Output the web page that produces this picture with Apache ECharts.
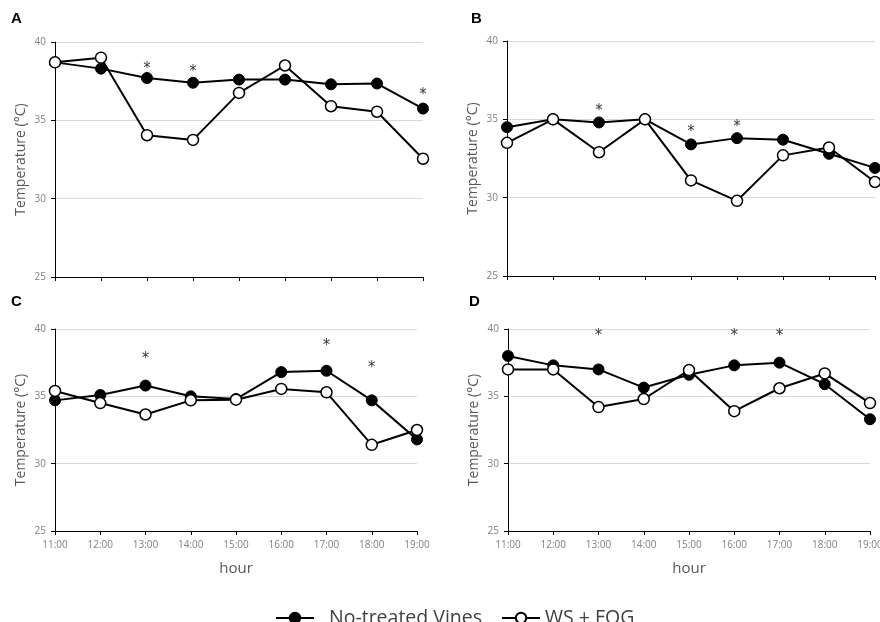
<!DOCTYPE html>
<html>
<head>
<meta charset="utf-8">
<script src="https://cdn.jsdelivr.net/npm/echarts@6/dist/echarts.min.js"></script>
<style>
  html, body { margin: 0; padding: 0; background: #fff; }
  #main { width: 880px; height: 622px; }
</style>
</head>
<body>
<div id="main"></div>
<script>
var hours = ["11:00", "12:00", "13:00", "14:00", "15:00", "16:00", "17:00", "18:00", "19:00"];

// No-treated Vines (filled) and WS + FOG (open), one pair per panel
var controlA = [38.7, 38.3, 37.7, 37.4, 37.6, 37.6, 37.3, 37.35, 35.75];
var fogA = [38.7, 39.0, 34.05, 33.75, 36.75, 38.5, 35.9, 35.55, 32.55];
var controlB = [34.5, 35.0, 34.8, 35.0, 33.4, 33.8, 33.7, 32.8, 31.9];
var fogB = [33.5, 35.0, 32.9, 35.0, 31.1, 29.8, 32.7, 33.2, 31.0];
var controlC = [34.7, 35.1, 35.8, 35.0, 34.8, 36.8, 36.9, 34.7, 31.8];
var fogC = [35.4, 34.5, 33.65, 34.7, 34.75, 35.55, 35.3, 31.4, 32.5];
var controlD = [38.0, 37.3, 37.0, 35.65, 36.6, 37.3, 37.5, 35.9, 33.3];
var fogD = [37.0, 37.0, 34.2, 34.8, 36.95, 33.9, 35.6, 36.7, 34.5];

// significance asterisks (value where the * sits, null = none)
var starsA = [null, null, 38.3, 38.1, null, null, null, null, 36.6];
var starsB = [null, null, 35.5, null, 34.2, 34.5, null, null, null];
var starsC = [null, null, 37.8, null, null, null, 38.75, 37.1, null];
var starsD = [null, null, 39.45, null, null, 39.5, 39.5, null, null];

var panels = [
  { letter: "A", control: controlA, fog: fogA, stars: starsA },
  { letter: "B", control: controlB, fog: fogB, stars: starsB },
  { letter: "C", control: controlC, fog: fogC, stars: starsC },
  { letter: "D", control: controlD, fog: fogD, stars: starsD }
];

var grids = [
  { left: 55, top: 42, width: 368, height: 235, outerBoundsMode: "none" },
  { left: 507, top: 41, width: 368, height: 235, outerBoundsMode: "none" },
  { left: 55, top: 329, width: 362, height: 202, outerBoundsMode: "none" },
  { left: 508, top: 329, width: 362, height: 202, outerBoundsMode: "none" }
];
var letterPos = [[11, 11], [471, 11], [11, 294], [469, 294]];

var font = "'Open Sans', sans-serif";
var xAxes = [], yAxes = [], series = [], graphics = [];

panels.forEach(function (p, i) {
  var bottomRow = i >= 2;
  xAxes.push({
    gridIndex: i,
    type: "category",
    data: hours,
    boundaryGap: false,
    axisLine: { lineStyle: { color: "#000", width: 1 } },
    axisTick: { show: true, length: 4, lineStyle: { color: "#000" } },
    axisLabel: { show: bottomRow, fontSize: 10, color: "#7f7f7f", margin: 9, fontFamily: font },
    name: bottomRow ? "hour" : "",
    nameLocation: "middle",
    nameGap: 30,
    nameTextStyle: { fontSize: 15, color: "#595959", fontFamily: font }
  });
  yAxes.push({
    gridIndex: i,
    type: "value",
    min: 25,
    max: 40,
    interval: 5,
    axisLine: { show: true, lineStyle: { color: "#000", width: 1 } },
    axisTick: { show: true, length: 4, lineStyle: { color: "#000" } },
    axisLabel: { fontSize: 10, color: "#7f7f7f", margin: 9, fontFamily: font },
    splitLine: { lineStyle: { color: "#d9d9d9" } },
    name: "Temperature (°C)",
    nameLocation: "middle",
    nameGap: 27,
    nameTextStyle: { fontSize: 14, color: "#595959", fontFamily: font }
  });
  series.push({
    name: "No-treated Vines",
    type: "line",
    xAxisIndex: i,
    yAxisIndex: i,
    data: p.control,
    symbol: "circle",
    symbolSize: 11,
    lineStyle: { color: "#000", width: 2 },
    itemStyle: { color: "#000", borderColor: "#000", borderWidth: 1 },
    animation: false
  });
  series.push({
    name: "WS + FOG",
    type: "line",
    xAxisIndex: i,
    yAxisIndex: i,
    data: p.fog,
    symbol: "circle",
    symbolSize: 11,
    lineStyle: { color: "#000", width: 2 },
    itemStyle: { color: "#fff", borderColor: "#000", borderWidth: 1.5 },
    animation: false
  });
  series.push({
    name: "sig",
    type: "scatter",
    xAxisIndex: i,
    yAxisIndex: i,
    data: p.stars,
    symbolSize: 1,
    itemStyle: { color: "rgba(0,0,0,0)" },
    label: {
      show: true,
      position: "inside",
      formatter: "*",
      fontSize: 15,
      color: "#000",
      fontFamily: "'DejaVu Sans', sans-serif"
    },
    silent: true,
    animation: false
  });
  graphics.push({
    type: "text",
    left: letterPos[i][0],
    top: letterPos[i][1],
    style: { text: p.letter, font: "bold 15px 'Liberation Sans', Arial, sans-serif", fill: "#000" }
  });
});

var chart = echarts.init(document.getElementById("main"));
chart.setOption({
  backgroundColor: "#fff",
  animation: false,
  grid: grids,
  xAxis: xAxes,
  yAxis: yAxes,
  legend: {
    data: [
      { name: "No-treated Vines", textStyle: { padding: [0, 0, 0, 10] } },
      { name: "WS + FOG" }
    ],
    left: 275,
    top: 608,
    padding: 0,
    itemWidth: 38,
    itemHeight: 13,
    itemGap: 19,
    textStyle: { fontSize: 19.5, color: "#404040", fontFamily: font }
  },
  graphic: graphics,
  series: series
});
</script>
</body>
</html>
